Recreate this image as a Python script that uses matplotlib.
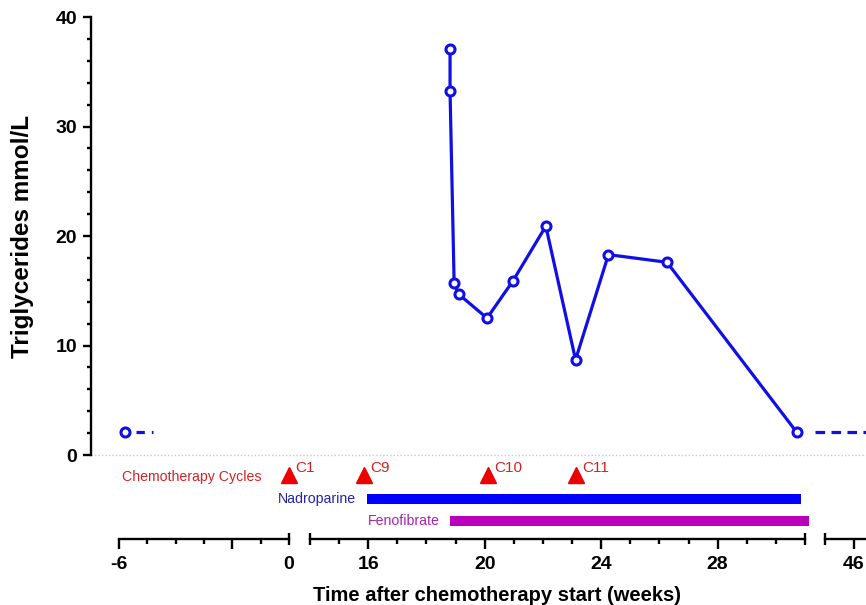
import matplotlib
matplotlib.use("Agg")
import matplotlib.pyplot as plt

plt.rcParams['font.family'] = ['Liberation Sans', 'DejaVu Sans']

# ---------------- data ----------------
# triglyceride measurements (weeks after chemotherapy start, mmol/L)
pre_weeks = [-5.8]
pre_tg = [2.1]
weeks = [18.81, 18.81, 18.95, 19.10, 20.08, 20.97, 22.10, 23.12, 24.25, 26.26, 30.71]
tg = [37.1, 33.2, 15.7, 14.7, 12.5, 15.9, 20.9, 8.7, 18.3, 17.6, 2.1]
# dashed continuation segments (x extents) at the neighbouring values
left_dash_weeks = [-5.4, -4.8]
right_dash_weeks = [44.65, 47.0]

# chemotherapy cycles
cycle_labels = ['C1', 'C9', 'C10', 'C11']
cycle_weeks = [0.0, 15.85, 20.12, 23.13]

# treatments (start, end in weeks)
treat_names = ['Nadroparine', 'Fenofibrate']
treat_start = [15.95, 18.81]
treat_end = [30.86, 31.13]

# axis segments
seg_limits = [(-7, 0), (14, 31), (45, 47)]
seg_major = [[-6, -2, 0], [16, 20, 24, 28], [46]]
seg_major_labels = [['-6', '', '0'], ['16', '20', '24', '28'], ['46']]
seg_minor = [[-5, -4, -3, -1], [15, 17, 18, 19, 21, 22, 23, 25, 26, 27, 29, 30], []]
seg_caps = [[0], [14, 31], [45]]
seg_spine = [(-6, 0), (14, 31), (45, 47)]

# ---------------- style ----------------
LINE_BLUE = '#0F0FE6'
BAR_BLUE = '#0000FF'
MAGENTA = '#BB00BB'
RED = '#EE0000'
RED_TXT = '#D42222'
W, H = 866, 605
YMIN, YMAX = -7.67, 40

fig = plt.figure(figsize=(W / 100, H / 100), dpi=100)


def ax_at(x0, x1):
    return fig.add_axes([x0 / W, (H - 539) / H, (x1 - x0) / W, (539 - 17) / H])


pix = [(90.5, 289), (310, 805), (825, 882)]
axes = [ax_at(*p) for p in pix]

for i, ax in enumerate(axes):
    ax.set_xlim(*seg_limits[i])
    ax.set_ylim(YMIN, YMAX)
    ax.patch.set_visible(False)
    for s in ['top', 'right']:
        ax.spines[s].set_visible(False)
    ax.spines['bottom'].set_bounds(*seg_spine[i])
    ax.spines['bottom'].set_linewidth(1.7)
    ax.set_xticks(seg_major[i], labels=seg_major_labels[i])
    ax.set_xticks(seg_minor[i], minor=True)
    ax.tick_params(axis='x', which='major', length=7.5, width=1.7, direction='out',
                   pad=4.5, labelsize=14)
    ax.tick_params(axis='x', which='minor', length=3.8, width=1.7, direction='out')
    for lab in ax.get_xticklabels():
        lab.set_fontweight('bold')
    # hide major tick lines at cap positions
    for t, v in zip(ax.xaxis.get_major_ticks(), seg_major[i]):
        if v in seg_caps[i]:
            t.tick1line.set_visible(False)
    ax.plot(seg_caps[i], [YMIN] * len(seg_caps[i]), ls='none', marker='|', ms=9,
            mew=1.7, color='black', clip_on=False, zorder=5)
    if i == 0:
        ax.spines['left'].set_bounds(0, 40)
        ax.spines['left'].set_linewidth(1.7)
        ax.set_yticks([0, 10, 20, 30, 40])
        ax.set_yticks(range(0, 41, 2), minor=True)
        ax.tick_params(axis='y', which='major', length=5.5, width=1.7, pad=4, labelsize=14)
        ax.tick_params(axis='y', which='minor', length=3, width=1.7)
        for lab in ax.get_yticklabels():
            lab.set_fontweight('bold')
    else:
        ax.spines['left'].set_visible(False)
        ax.tick_params(axis='y', which='both', left=False, labelleft=False)

ax1, ax2, ax3 = axes

# zero reference line (dotted, light gray) spanning the width
ax1.axhline(0, xmin=0, xmax=5, color='#C8C8C8', lw=1, ls=(0, (1, 1.5)),
            clip_on=False, zorder=0)

# data
ax1.plot(pre_weeks, pre_tg, ls='none', marker='o', ms=6.5, mew=2.2, mfc='white',
         mec=LINE_BLUE, zorder=4)
ax1.plot(left_dash_weeks, [pre_tg[0]] * 2, color=LINE_BLUE, lw=2.3, ls=(0, (2.6, 2.2)),
         zorder=3)
ax2.plot(weeks, tg, color=LINE_BLUE, lw=2.3, marker='o', ms=6.5, mew=2.2, mfc='white',
         mec=LINE_BLUE, zorder=4, clip_on=False)
ax3.plot(right_dash_weeks, [tg[-1]] * 2, color=LINE_BLUE, lw=2.3, ls=(0, (3, 2)),
         clip_on=False, zorder=3)

# chemotherapy cycles
tri_y = -1.87
cyc_axes = [ax1, ax2, ax2, ax2]
for lab, wk, ax in zip(cycle_labels, cycle_weeks, cyc_axes):
    ax.plot([wk], [tri_y], marker='^', ms=11.5, color=RED, ls='none', clip_on=False,
            zorder=5)
    ax.annotate(lab, (wk, tri_y), xytext=(4.5, 5.5), textcoords='offset points',
                ha='left', va='center', fontsize=11, color=RED_TXT, zorder=6)
ax1.text(-0.98, -2.0, 'Chemotherapy Cycles', ha='right', va='center', fontsize=10.2,
         color=RED_TXT)

# treatment bars
bar_y = [-4.02, -6.0]
bar_col = [BAR_BLUE, MAGENTA]
txt_col = ['#2222AA', '#AA22AA']
for name, s, e, y, c, tc in zip(treat_names, treat_start, treat_end, bar_y, bar_col, txt_col):
    ax2.barh(y, e - s, left=s, height=0.92, color=c, clip_on=False, zorder=3)
    ax2.annotate(name, (s, y), xytext=(-7.5, 0), textcoords='offset points', ha='right',
                 va='center', fontsize=10.2, color=tc)

# axis labels
fig.text(497 / W, 1 - 601 / H, 'Time after chemotherapy start (weeks)', ha='center',
         va='baseline', fontsize=14.5, fontweight='bold')
fig.text(23 / W, 1 - 236 / H, 'Triglycerides mmol/L', ha='center', va='center',
         rotation=90, fontsize=17.5, fontweight='bold')

fig.savefig('out.png', dpi=100)
